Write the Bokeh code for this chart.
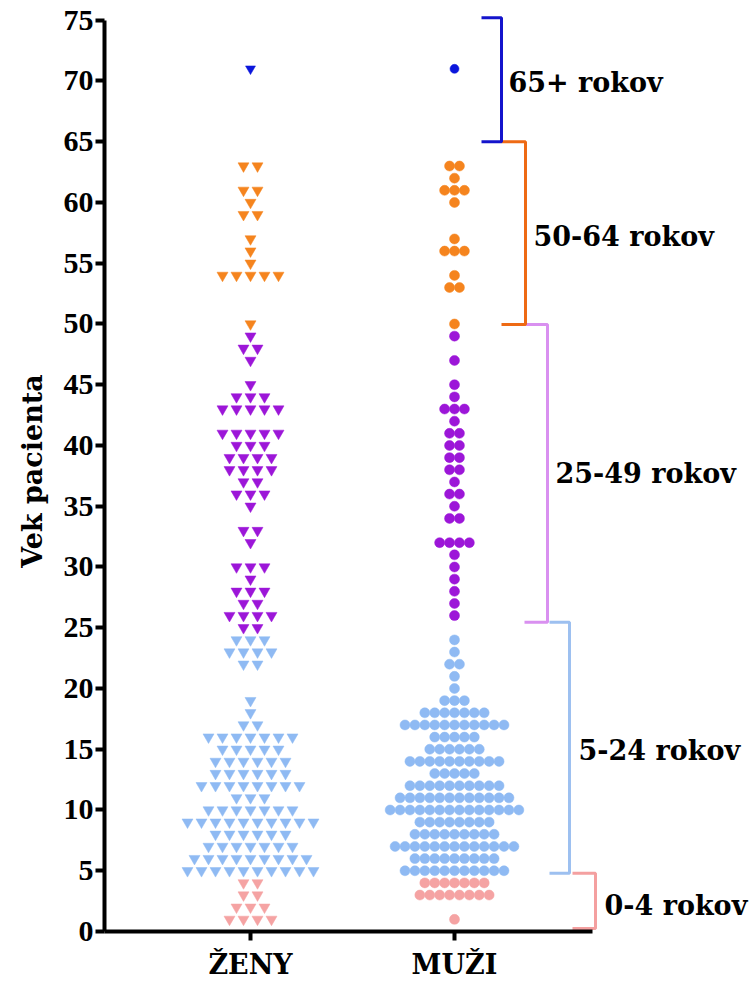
from bokeh.plotting import figure
from bokeh.models import Range1d, FixedTicker, ColumnDataSource
from bokeh.core.properties import value
from bokeh.embed import file_html
from bokeh.resources import INLINE

# ---------------- data ----------------
categories = ["ŽENY", "MUŽI"]

zeny_ages = [71, 63, 61, 60, 59, 57, 56, 55, 54, 50,
             49, 48, 47, 45, 44, 43, 41, 40, 39, 38, 37, 36, 35, 33, 32, 30, 29, 28, 27, 26, 25,
             24, 23, 22, 19, 18, 17, 16, 15, 14, 13, 12, 11, 10, 9, 8, 7, 6, 5,
             4, 3, 2, 1]
zeny_counts = [1, 2, 2, 1, 2, 1, 1, 1, 5, 1,
               1, 2, 1, 1, 3, 5, 5, 3, 4, 4, 2, 3, 1, 2, 1, 3, 1, 3, 2, 4, 2,
               3, 4, 2, 1, 1, 2, 7, 5, 6, 6, 8, 3, 7, 10, 6, 7, 9, 10,
               2, 2, 3, 4]

muzi_ages = [71, 63, 62, 61, 60, 57, 56, 54, 53, 50,
             49, 47, 45, 44, 43, 42, 41, 40, 39, 38, 37, 36, 35, 34, 32, 31, 30, 29, 28, 27, 26,
             24, 23, 22, 21, 20, 19, 18, 17, 16, 15, 14, 13, 12, 11, 10, 9, 8, 7, 6, 5,
             4, 3, 1]
muzi_counts = [1, 2, 1, 3, 1, 1, 3, 1, 2, 1,
               1, 1, 1, 1, 3, 1, 2, 2, 2, 2, 1, 2, 1, 2, 4, 1, 1, 1, 1, 1, 1,
               1, 1, 2, 1, 1, 3, 7, 11, 5, 6, 10, 5, 10, 12, 14, 8, 9, 13, 9, 11,
               7, 8, 1]

group_labels = ["0-4 rokov", "5-24 rokov", "25-49 rokov", "50-64 rokov", "65+ rokov"]
group_lower = [0, 5, 25, 50, 65]
group_colors = ["#F5A3A3", "#8FBAF3", "#9C16D8", "#F5841E", "#0B16DC"]
bracket_colors = ["#F4A0A0", "#9DC0F0", "#D990F0", "#EE6A14", "#1414CC"]

y_ticks = list(range(0, 80, 5))

# ---------------- layout (px-based x scale) ----------------
cat_x = [146, 350]
spacing = [14.0, 9.9]
markers = ["inverted_triangle", "circle"]
sizes = [11, 10]

bracket_top = [4.8, 25.45, 49.95, 65.0, 75.2]
bracket_bot = [0.25, 4.8, 25.45, 49.95, 65.0]
bracket_xv = [491, 465, 443, 421, 397]
bracket_xl = [468, 445, 420, 397, 377]
label_x = [500, 474, 451, 429, 404]
label_y = [2.15, 14.9, 37.7, 57.2, 69.85]


def group_of(age):
    g = 0
    for i, lo in enumerate(group_lower):
        if age >= lo:
            g = i
    return g


p = figure(width=756, height=987, output_backend="svg", toolbar_location=None,
           x_range=Range1d(0, 652), y_range=Range1d(0, 75.8),
           min_border_left=104, min_border_right=0, min_border_top=10, min_border_bottom=56)
p.xgrid.visible = False
p.ygrid.visible = False
p.outline_line_color = None
p.background_fill_color = "white"
p.border_fill_color = "white"

for ci, (ages, counts) in enumerate([(zeny_ages, zeny_counts), (muzi_ages, muzi_counts)]):
    xs, ys, cs, ss = [], [], [], []
    for a, n in zip(ages, counts):
        g = group_of(a)
        for i in range(n):
            xs.append(cat_x[ci] + (i - (n - 1) / 2) * spacing[ci])
            ys.append(a)
            cs.append(group_colors[g])
            ss.append(sizes[ci] - (1 if g == 4 else 0))
    src = ColumnDataSource(dict(x=xs, y=ys, c=cs, s=ss))
    p.scatter("x", "y", source=src, marker=markers[ci], size="s",
              fill_color="c", line_color="c", line_width=0.5)

# brackets
for gi in range(len(group_labels)):
    p.line([bracket_xl[gi], bracket_xv[gi], bracket_xv[gi], bracket_xl[gi]],
           [bracket_top[gi], bracket_top[gi], bracket_bot[gi], bracket_bot[gi]],
           line_color=bracket_colors[gi], line_width=3)

p.text(x=label_x, y=label_y, text=group_labels, text_font=value("DejaVu Serif"),
       text_font_style="bold", text_font_size="27px", text_baseline="middle",
       text_align="left", text_color="black")

# axes
p.yaxis.ticker = FixedTicker(ticks=y_ticks)
p.yaxis.bounds = (0, 75)
p.yaxis.axis_label = "Vek pacienta"
p.yaxis.axis_label_text_font = "DejaVu Serif"
p.yaxis.axis_label_text_font_style = "bold"
p.yaxis.axis_label_text_font_size = "27px"
p.yaxis.axis_label_standoff = 13
p.yaxis.major_label_text_font = "Liberation Serif"
p.yaxis.major_label_text_font_style = "bold"
p.yaxis.major_label_text_font_size = "30px"
p.yaxis.major_label_standoff = 2

p.xaxis.ticker = FixedTicker(ticks=cat_x)
p.xaxis.major_label_overrides = {cat_x[i]: categories[i] for i in range(2)}
p.xaxis.bounds = (0, 488)
p.xaxis.major_label_text_font = "DejaVu Serif"
p.xaxis.major_label_text_font_style = "bold"
p.xaxis.major_label_text_font_size = "27px"
p.xaxis.major_label_standoff = 8

for ax in (p.xaxis, p.yaxis):
    ax.axis_line_width = 4
    ax.axis_line_color = "black"
    ax.major_tick_line_width = 4
    ax.major_tick_line_color = "black"
    ax.major_tick_out = 9
    ax.major_tick_in = 0
    ax.minor_tick_line_color = None
    ax.major_label_text_color = "black"
    ax.axis_label_text_color = "black"

open("out.html", "w").write(file_html(p, INLINE))
